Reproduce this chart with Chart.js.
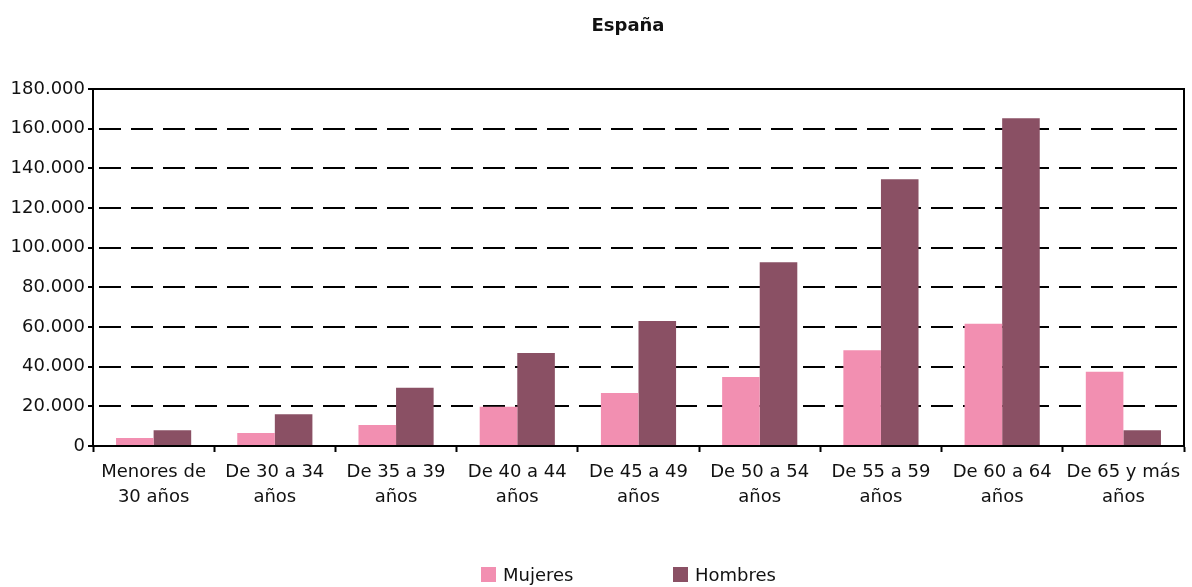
<!DOCTYPE html>
<html>
<head>
<meta charset="utf-8">
<script src="https://cdn.jsdelivr.net/npm/chart.js@4/dist/chart.umd.min.js"></script>
<style>
  html, body { margin: 0; padding: 0; background: #fff; }
  #wrap { position: relative; width: 1192px; height: 587px; }
  #legend { position: absolute; left: 0; top: 564px; width: 1192px; height: 24px; font-family: "DejaVu Sans", sans-serif; font-size: 18px; color: #111; }
  .item { position: absolute; top: 0; display: flex; align-items: center; }
  .box { width: 15px; height: 15px; margin-right: 7px; }
</style>
</head>
<body>
<div id="wrap">
  <canvas id="c" width="1192" height="587"></canvas>
  <div id="legend"></div>
</div>
<script>
const title = 'España';
const categories = [
  ['Menores de', '30 años'],
  ['De 30 a 34', 'años'],
  ['De 35 a 39', 'años'],
  ['De 40 a 44', 'años'],
  ['De 45 a 49', 'años'],
  ['De 50 a 54', 'años'],
  ['De 55 a 59', 'años'],
  ['De 60 a 64', 'años'],
  ['De 65 y más', 'años']
];
const seriesNames = ['Mujeres', 'Hombres'];
const mujeres = [4000, 6500, 10600, 19800, 26700, 34800, 48300, 61700, 37500];
const hombres = [7900, 16000, 29400, 46900, 63000, 92600, 134500, 165200, 7900];
const yMin = 0, yMax = 180000, yStep = 20000;
const colors = ['#F28FB1', '#8A5064'];

const FONT = '"DejaVu Sans", sans-serif';

const frame = {
  id: 'frame',
  afterDatasetsDraw(chart) {
    const a = chart.chartArea, ctx = chart.ctx;
    ctx.save();
    ctx.strokeStyle = '#000';
    ctx.lineWidth = 2;
    ctx.strokeRect(a.left, a.top, a.right - a.left, a.bottom - a.top);
    ctx.restore();
  }
};
const titlePlugin = {
  id: 'titleText',
  afterDraw(chart) {
    const ctx = chart.ctx;
    ctx.save();
    ctx.font = 'bold 18px ' + FONT;
    ctx.fillStyle = '#111';
    ctx.textAlign = 'center';
    ctx.textBaseline = 'middle';
    ctx.fillText(title, 628, 26);
    ctx.restore();
  }
};

new Chart(document.getElementById('c'), {
  type: 'bar',
  data: {
    labels: categories,
    datasets: [
      { label: seriesNames[0], data: mujeres, backgroundColor: colors[0] },
      { label: seriesNames[1], data: hombres, backgroundColor: colors[1] }
    ]
  },
  options: {
    responsive: false,
    animation: false,
    layout: { padding: { left: 0, right: 8, top: 89, bottom: 0 } },
    datasets: { bar: { categoryPercentage: 0.62, barPercentage: 1.0 } },
    plugins: { legend: { display: false }, tooltip: { enabled: false }, title: { display: false } },
    scales: {
      x: {
        afterFit(s) { s.height = 141; },
        grid: { offset: true, drawOnChartArea: false, drawTicks: true, tickLength: 6, tickColor: '#000', tickWidth: 2 },
        border: { display: true, color: '#000', width: 2 },
        ticks: { color: '#111', font: { family: FONT, size: 18, lineHeight: 1.4 }, padding: 8, maxRotation: 0, autoSkip: false }
      },
      y: {
        min: yMin, max: yMax,
        afterFit(s) { s.width = 93; },
        grid: { color: '#000', lineWidth: 2, tickLength: 5, tickColor: '#000', tickWidth: 2, tickBorderDash: [] },
        border: { display: true, color: '#000', width: 2, dash: [22, 10], dashOffset: -5 },
        ticks: {
          stepSize: yStep, color: '#111', padding: 3,
          font: { family: FONT, size: 18 },
          callback: v => v.toLocaleString('de-DE')
        }
      }
    }
  },
  plugins: [frame, titlePlugin]
});

const legendPos = [481, 673];
const lg = document.getElementById('legend');
seriesNames.forEach((n, i) => {
  const it = document.createElement('div');
  it.className = 'item';
  it.style.left = legendPos[i] + 'px';
  const b = document.createElement('div');
  b.className = 'box';
  b.style.background = colors[i];
  const t = document.createElement('span');
  t.textContent = n;
  it.appendChild(b); it.appendChild(t);
  lg.appendChild(it);
});
</script>
</body>
</html>
